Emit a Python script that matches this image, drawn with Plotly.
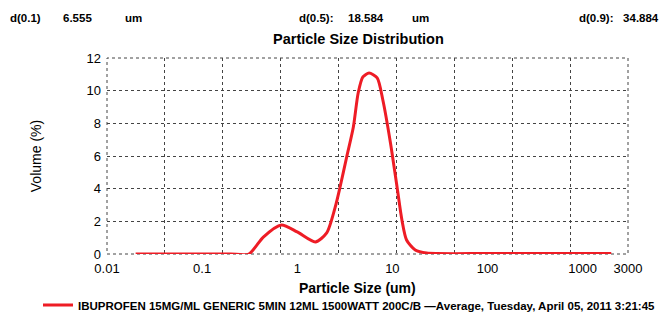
import numpy as np
import plotly.graph_objects as go

# Data
size_um = [0.02, 0.1, 0.2, 0.31, 0.44, 0.68, 1.0, 1.55, 2.04, 2.51, 2.82, 3.31,
           3.89, 4.37, 4.9, 5.69, 6.92, 7.94, 9.55, 11.2, 12.6, 14.1, 17.4, 22.9,
           100, 1000, 2000]
volume_pct = [0, 0, 0, 0, 1.04, 1.78, 1.35, 0.74, 1.29, 2.88, 4.1, 5.94,
              7.78, 9.86, 10.84, 11.08, 10.78, 9.43, 6.8, 4.1, 2.08, 0.86, 0.24, 0.06,
              0.03, 0.03, 0.03]
x_tick_vals = [0.01, 0.1, 1, 10, 100, 1000, 3000]
x_tick_text = ["0.01", "0.1", "1", "10", "100", "1000", "3000"]
y_tick_vals = [0, 2, 4, 6, 8, 10, 12]
series_name = ("IBUPROFEN 15MG/ML GENERIC 5MIN 12ML 1500WATT 200C/B \u2014Average, "
               "Tuesday, April 05, 2011 3:21:45")
stats = [("d(0.1)", "6.555", "um"), ("d(0.5):", "18.584", "um"), ("d(0.9):", "34.884", "")]

x_min, x_max = 0.01, 3000
n_grid_div = 9
lo, hi = np.log10(x_min), np.log10(x_max)
grid_vals = [10 ** (lo + i * (hi - lo) / n_grid_div) for i in range(1, n_grid_div)]

FONT = "Liberation Sans, Arial, sans-serif"
GRID = "#444444"

fig = go.Figure()
fig.add_trace(go.Scatter(
    x=size_um, y=volume_pct, mode="lines", name=series_name,
    line=dict(color="#ee1c25", width=3, shape="spline", smoothing=0.7),
))

L, R, T, B = 107, 37, 58, 60
W, H = 665, 314
pw, ph = W - L - R, H - T - B

def px_x(px):
    return (px - L) / pw

def px_y(py):
    return (H - B - py) / ph

fig.update_layout(
    width=W, height=H,
    margin=dict(l=L, r=R, t=T, b=B, autoexpand=False),
    paper_bgcolor="white", plot_bgcolor="white",
    font=dict(family=FONT, size=12, color="black"),
    showlegend=True,
    legend=dict(orientation="h", x=px_x(38), y=px_y(305), xanchor="left", yanchor="middle",
                font=dict(size=11.5, family=FONT, color="black", weight="bold"),
                bgcolor="rgba(0,0,0,0)", itemwidth=30),
    xaxis=dict(type="log", range=[lo, hi], tickvals=x_tick_vals, ticktext=x_tick_text,
               showgrid=False, zeroline=False, showline=False, ticks="",
               tickfont=dict(size=13), automargin=False, ticklabelstandoff=5),
    xaxis2=dict(type="log", range=[lo, hi], overlaying="x", tickvals=grid_vals,
                showticklabels=False, ticks="", showgrid=True, gridcolor=GRID,
                griddash="dot", gridwidth=1, zeroline=False, showline=False,
                automargin=False),
    yaxis=dict(range=[0, 12], tickvals=y_tick_vals, showgrid=True, gridcolor=GRID,
               griddash="dot", gridwidth=1, zeroline=False, showline=False, ticks="",
               tickfont=dict(size=13), ticklabelstandoff=5, automargin=False,
               title=dict(text="Volume (%)", font=dict(size=14), standoff=41)),
)

# dotted frame around the plot area
fig.add_shape(type="rect", xref="paper", yref="paper", x0=0, x1=1, y0=0, y1=1,
              line=dict(color=GRID, width=1, dash="dot"), layer="below")

# empty trace to activate the grid overlay axis
fig.add_trace(go.Scatter(x=[], y=[], xaxis="x2", showlegend=False, hoverinfo="skip"))

fig.add_annotation(text="<b>Particle Size Distribution</b>", xref="paper", yref="paper",
                   x=px_x(358), y=px_y(39), xanchor="center", yanchor="middle",
                   showarrow=False, font=dict(size=14.5))
fig.add_annotation(text="<b>Particle Size (um)</b>", xref="paper", yref="paper",
                   x=px_x(357), y=px_y(288), xanchor="center", yanchor="middle",
                   showarrow=False, font=dict(size=14))

stat_pos = [(8, 61, 123), (297, 346, 410), (554, 600, None)]
for (lab, val, unit), (p1, p2, p3) in zip(stats, stat_pos):
    if unit:
        for txt, p in ((lab, p1), (val, p2), (unit, p3)):
            fig.add_annotation(text=f"<b>{txt}</b>", xref="paper", yref="paper",
                               x=px_x(p), y=px_y(18), xanchor="left", yanchor="middle",
                               showarrow=False, font=dict(size=11.5))
    else:
        fig.add_annotation(text=f"<b>{lab}&nbsp;&nbsp;&nbsp;{val}</b>", xref="paper",
                           yref="paper", x=px_x(661), y=px_y(18), xanchor="right",
                           yanchor="middle", showarrow=False, font=dict(size=11.5))

fig.write_html("out.html", config={"displayModeBar": False},
               post_script="document.body.style.margin='0';document.body.style.overflow='hidden';")
